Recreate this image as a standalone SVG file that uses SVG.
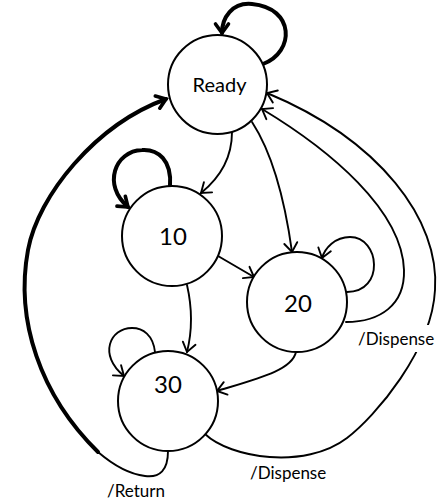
<svg xmlns="http://www.w3.org/2000/svg" width="440" height="502" viewBox="0 0 440 502">
  <style>
    .state { fill: #fff; stroke: #000; stroke-width: 2; }
    .name { font-family: Lato, "Open Sans", sans-serif; fill: #000; text-anchor: middle; }
    .edge { fill: none; stroke: #000; stroke-width: 1.9; stroke-linecap: round; }
    .edge.bold { stroke-width: 4; }
    .label { font-family: Lato, "Open Sans", sans-serif; font-size: 17px; fill: #000; }
  </style>
  <defs>
    <marker id="arrow" markerUnits="userSpaceOnUse" viewBox="-14 -10 16 20" markerWidth="16" markerHeight="20" refX="0" refY="0" orient="auto" overflow="visible">
      <path d="M-9,-6.5 L0,0 L-9,6.5" fill="none" stroke="#000" stroke-width="1.9" stroke-linecap="round" stroke-linejoin="miter"/>
    </marker>
    <marker id="arrow-bold" markerUnits="userSpaceOnUse" viewBox="-14 -10 16 20" markerWidth="16" markerHeight="20" refX="0" refY="0" orient="auto" overflow="visible">
      <path d="M-9,-6.5 L0,0 L-9,6.5" fill="none" stroke="#000" stroke-width="3.6" stroke-linecap="round" stroke-linejoin="miter"/>
    </marker>
  </defs>

  <rect width="440" height="502" fill="#fff"/>

  <!-- transitions -->
  <g id="connectors">
    <!-- Ready self-loop -->
    <path class="edge bold" d="M263,64 C295,52 295,8 252,4 C232,2 222,18 222,33" marker-end="url(#arrow-bold)"/>
    <!-- Ready -> 10 -->
    <path class="edge" d="M232,132 Q232,168 201,193" marker-end="url(#arrow)"/>
    <!-- Ready -> 20 -->
    <path class="edge" d="M252,122 Q280,165 292,252" marker-end="url(#arrow)"/>
    <!-- 10 self-loop -->
    <path class="edge bold" d="M170,186 C172,160 158,149 142,150 C115,151 102,185 128,207" marker-end="url(#arrow-bold)"/>
    <!-- 10 -> 20 -->
    <path class="edge" d="M218,256 L254,277" marker-end="url(#arrow)"/>
    <!-- 10 -> 30 -->
    <path class="edge" d="M187,285 Q195,320 187,352" marker-end="url(#arrow)"/>
    <!-- 20 self-loop -->
    <path class="edge" d="M347,292 C385,292 380,237 350,237 C335,237 325,248 322,258" marker-end="url(#arrow)"/>
    <!-- 20 -> 30 -->
    <path class="edge" d="M296,352 C292,370 260,378 217,391" marker-end="url(#arrow)"/>
    <!-- 20 -> Ready -->
    <path class="edge" d="M346,322 C380,322 405,305 404,270 C402,210 330,150 262,109" marker-end="url(#arrow)"/>
    <!-- 30 -> Ready (outer) -->
    <path class="edge" d="M205,434 C230,458 305,470 347,438 C375,417 432,350 435,290 C440,220 380,140 267,93" marker-end="url(#arrow)"/>
    <!-- 30 self-loop -->
    <path class="edge" d="M155,352 C153,335 143,328 132,328 C110,328 98,355 124,376" marker-end="url(#arrow)"/>
    <!-- 30 -> Ready (return) -->
    <path class="edge" d="M168,451 C168,470 160,478 145,476 C128,474 112,464 98,452"/>
    <path class="edge bold" d="M98,452 C40,395 15,320 28,250 C38,196 95,125 166,99" marker-end="url(#arrow-bold)"/>
  </g>

  <!-- transition labels -->
  <g id="labels">
    <rect x="356" y="325" width="80" height="27" fill="#fff"/>
    <text class="label" x="358" y="345">/Dispense</text>
    <text class="label" x="250" y="479">/Dispense</text>
    <text class="label" x="107" y="497">/Return</text>
  </g>

  <!-- states -->
  <g id="ready">
    <circle class="state" cx="217.5" cy="84.5" r="49.5"/>
    <text class="name" x="219.5" y="92" font-size="20">Ready</text>
  </g>
  <g id="s10">
    <circle class="state" cx="172" cy="236" r="50"/>
    <text class="name" x="173" y="245" font-size="24">10</text>
  </g>
  <g id="s20">
    <circle class="state" cx="297" cy="302" r="50"/>
    <text class="name" x="298" y="311.5" font-size="24">20</text>
  </g>
  <g id="s30">
    <circle class="state" cx="168" cy="401" r="50"/>
    <text class="name" x="168" y="393" font-size="24">30</text>
  </g>
</svg>
